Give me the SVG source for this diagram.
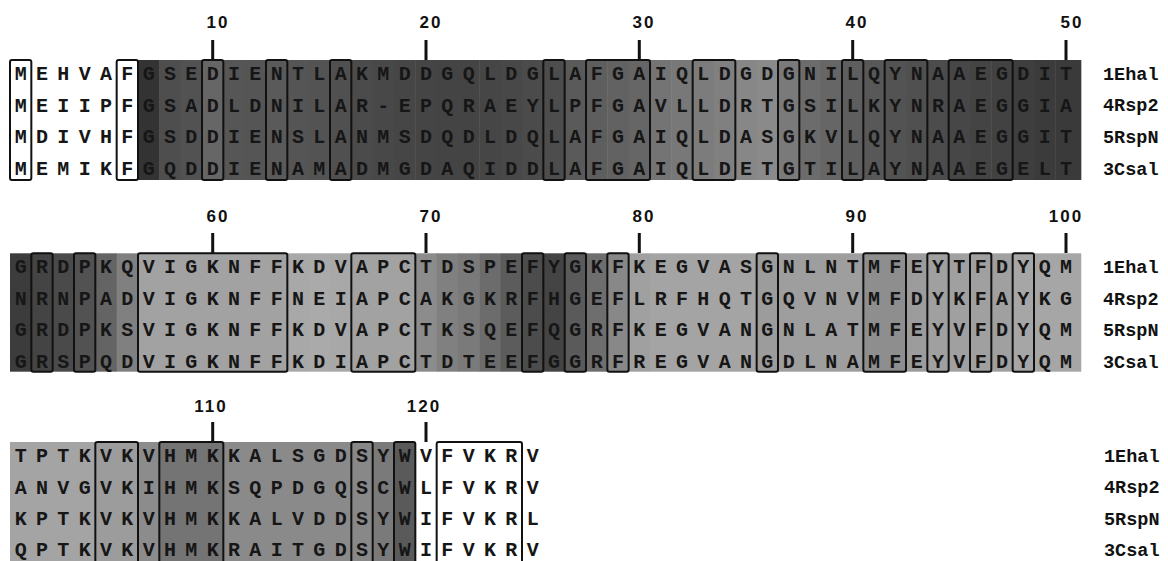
<svg xmlns="http://www.w3.org/2000/svg" width="1168" height="561" viewBox="0 0 1168 561">
<style>
.seq{font-family:"Liberation Mono","DejaVu Sans Mono",monospace;font-weight:bold;font-size:20px;fill:#161616;text-anchor:middle}
.lab{font-family:"Liberation Mono","DejaVu Sans Mono",monospace;font-weight:bold;font-size:18.5px;fill:#111}
.num{font-family:"Liberation Sans",Arial,sans-serif;font-weight:bold;font-size:17px;fill:#111;text-anchor:middle;letter-spacing:2px}
.box{fill:none;stroke:#111;stroke-width:2}
.tick{fill:#111}
</style>
<rect width="1168" height="561" fill="#fff"/>

<g id="block1">
<g id="shade1">
<rect x="138" y="60" width="21.8" height="120" fill="#333"/>
<rect x="159.33" y="60" width="21.8" height="120" fill="#4e4e4e"/>
<rect x="180.67" y="60" width="21.8" height="120" fill="#525252"/>
<rect x="202" y="60" width="21.8" height="120" fill="#666"/>
<rect x="223.33" y="60" width="21.8" height="120" fill="#565656"/>
<rect x="244.67" y="60" width="21.8" height="120" fill="#555"/>
<rect x="266" y="60" width="21.8" height="120" fill="#5a5a5a"/>
<rect x="287.33" y="60" width="21.8" height="120" fill="#555"/>
<rect x="308.67" y="60" width="21.8" height="120" fill="#535353"/>
<rect x="330" y="60" width="21.8" height="120" fill="#505050"/>
<rect x="351.33" y="60" width="21.8" height="120" fill="#4b4b4b"/>
<rect x="372.67" y="60" width="21.8" height="120" fill="#484848"/>
<rect x="394" y="60" width="21.8" height="120" fill="#464646"/>
<rect x="415.33" y="60" width="21.8" height="120" fill="#454545"/>
<rect x="436.67" y="60" width="21.8" height="120" fill="#444"/>
<rect x="458" y="60" width="21.8" height="120" fill="#444"/>
<rect x="479.33" y="60" width="21.8" height="120" fill="#464646"/>
<rect x="500.67" y="60" width="21.8" height="120" fill="#484848"/>
<rect x="522" y="60" width="21.8" height="120" fill="#4b4b4b"/>
<rect x="543.33" y="60" width="21.8" height="120" fill="#4d4d4d"/>
<rect x="564.67" y="60" width="21.8" height="120" fill="#5a5a5a"/>
<rect x="586" y="60" width="21.8" height="120" fill="#5e5e5e"/>
<rect x="607.33" y="60" width="21.8" height="120" fill="#626262"/>
<rect x="628.67" y="60" width="21.8" height="120" fill="#666"/>
<rect x="650" y="60" width="21.8" height="120" fill="#747474"/>
<rect x="671.33" y="60" width="21.8" height="120" fill="#787878"/>
<rect x="692.67" y="60" width="21.8" height="120" fill="#7c7c7c"/>
<rect x="714" y="60" width="21.8" height="120" fill="#808080"/>
<rect x="735.33" y="60" width="21.8" height="120" fill="#878787"/>
<rect x="756.67" y="60" width="21.8" height="120" fill="#8a8a8a"/>
<rect x="778" y="60" width="21.8" height="120" fill="#7a7a7a"/>
<rect x="799.33" y="60" width="21.8" height="120" fill="#6c6c6c"/>
<rect x="820.67" y="60" width="21.8" height="120" fill="#666"/>
<rect x="842" y="60" width="21.8" height="120" fill="#5e5e5e"/>
<rect x="863.33" y="60" width="21.8" height="120" fill="#585858"/>
<rect x="884.67" y="60" width="21.8" height="120" fill="#535353"/>
<rect x="906" y="60" width="21.8" height="120" fill="#505050"/>
<rect x="927.33" y="60" width="21.8" height="120" fill="#4c4c4c"/>
<rect x="948.67" y="60" width="21.8" height="120" fill="#474747"/>
<rect x="970" y="60" width="21.8" height="120" fill="#444"/>
<rect x="991.33" y="60" width="21.8" height="120" fill="#424242"/>
<rect x="1012.67" y="60" width="21.8" height="120" fill="#3e3e3e"/>
<rect x="1034" y="60" width="21.8" height="120" fill="#3b3b3b"/>
<rect x="1055.33" y="60" width="26" height="120" fill="#3a3a3a"/>
</g>
<g id="boxes1">
<rect class="box" x="10" y="60" width="21.33" height="120" rx="2"/>
<rect class="box" x="116.67" y="60" width="21.33" height="120" rx="2"/>
<rect class="box" x="202" y="60" width="21.33" height="120" rx="2"/>
<rect class="box" x="266" y="60" width="21.33" height="120" rx="2"/>
<rect class="box" x="330" y="60" width="21.33" height="120" rx="2"/>
<rect class="box" x="543.33" y="60" width="21.33" height="120" rx="2"/>
<rect class="box" x="586" y="60" width="64" height="120" rx="2"/>
<rect class="box" x="692.67" y="60" width="42.67" height="120" rx="2"/>
<rect class="box" x="778" y="60" width="21.33" height="120" rx="2"/>
<rect class="box" x="842" y="60" width="21.33" height="120" rx="2"/>
<rect class="box" x="884.67" y="60" width="42.67" height="120" rx="2"/>
<rect class="box" x="948.67" y="60" width="64" height="120" rx="2"/>
</g>
<g id="ticks1">
<rect class="tick" x="211.2" y="40" width="3" height="20"/>
<rect class="tick" x="424.5" y="40" width="3" height="20"/>
<rect class="tick" x="637.8" y="40" width="3" height="20"/>
<rect class="tick" x="851.2" y="40" width="3" height="20"/>
<rect class="tick" x="1064.5" y="40" width="3" height="20"/>
<text class="num" x="218" y="28">10</text>
<text class="num" x="431" y="28">20</text>
<text class="num" x="644" y="28">30</text>
<text class="num" x="857" y="28">40</text>
<text class="num" x="1072" y="28">50</text>
</g>
<g id="seq1">
<text class="seq" y="80" x="20.67 42 63.33 84.67 106 127.33 148.67 170 191.33 212.67 234 255.33 276.67 298 319.33 340.67 362 383.33 404.67 426 447.33 468.67 490 511.33 532.67 554 575.33 596.67 618 639.33 660.67 682 703.33 724.67 746 767.33 788.67 810 831.33 852.67 874 895.33 916.67 938 959.33 980.67 1002 1023.33 1044.67 1066">MEHVAFGSEDIENTLAKMDDGQLDGLAFGAIQLDGDGNILQYNAAEGDIT</text>
<text class="seq" y="111.6" x="20.67 42 63.33 84.67 106 127.33 148.67 170 191.33 212.67 234 255.33 276.67 298 319.33 340.67 362 383.33 404.67 426 447.33 468.67 490 511.33 532.67 554 575.33 596.67 618 639.33 660.67 682 703.33 724.67 746 767.33 788.67 810 831.33 852.67 874 895.33 916.67 938 959.33 980.67 1002 1023.33 1044.67 1066">MEIIPFGSADLDNILAR-EPQRAEYLPFGAVLLDRTGSILKYNRAEGGIA</text>
<text class="seq" y="143.3" x="20.67 42 63.33 84.67 106 127.33 148.67 170 191.33 212.67 234 255.33 276.67 298 319.33 340.67 362 383.33 404.67 426 447.33 468.67 490 511.33 532.67 554 575.33 596.67 618 639.33 660.67 682 703.33 724.67 746 767.33 788.67 810 831.33 852.67 874 895.33 916.67 938 959.33 980.67 1002 1023.33 1044.67 1066">MDIVHFGSDDIENSLANMSDQDLDQLAFGAIQLDASGKVLQYNAAEGGIT</text>
<text class="seq" y="175" x="20.67 42 63.33 84.67 106 127.33 148.67 170 191.33 212.67 234 255.33 276.67 298 319.33 340.67 362 383.33 404.67 426 447.33 468.67 490 511.33 532.67 554 575.33 596.67 618 639.33 660.67 682 703.33 724.67 746 767.33 788.67 810 831.33 852.67 874 895.33 916.67 938 959.33 980.67 1002 1023.33 1044.67 1066">MEMIKFGQDDIENAMADMGDAQIDDLAFGAIQLDETGTILAYNAAEGELT</text>
</g>
<g id="labels1">
<text class="lab" x="1103" y="79.5">1Ehal</text>
<text class="lab" x="1103" y="111.2">4Rsp2</text>
<text class="lab" x="1103" y="142.8">5RspN</text>
<text class="lab" x="1103" y="174.5">3Csal</text>
</g>
</g>

<g id="block2">
<g id="shade2">
<rect x="10" y="253.3" width="21.8" height="118.4" fill="#3c3c3c"/>
<rect x="31.33" y="253.3" width="21.8" height="118.4" fill="#444"/>
<rect x="52.67" y="253.3" width="21.8" height="118.4" fill="#4a4a4a"/>
<rect x="74" y="253.3" width="21.8" height="118.4" fill="#525252"/>
<rect x="95.33" y="253.3" width="21.8" height="118.4" fill="#646464"/>
<rect x="116.67" y="253.3" width="21.8" height="118.4" fill="#808080"/>
<rect x="138" y="253.3" width="149.8" height="118.4" fill="#a2a2a2"/>
<rect x="287.33" y="253.3" width="21.8" height="118.4" fill="#a8a8a8"/>
<rect x="308.67" y="253.3" width="21.8" height="118.4" fill="#aaa"/>
<rect x="330" y="253.3" width="21.8" height="118.4" fill="#a8a8a8"/>
<rect x="351.33" y="253.3" width="64.4" height="118.4" fill="#a2a2a2"/>
<rect x="415.33" y="253.3" width="21.8" height="118.4" fill="#8c8c8c"/>
<rect x="436.67" y="253.3" width="21.8" height="118.4" fill="#808080"/>
<rect x="458" y="253.3" width="21.8" height="118.4" fill="#7a7a7a"/>
<rect x="479.33" y="253.3" width="21.8" height="118.4" fill="#6c6c6c"/>
<rect x="500.67" y="253.3" width="21.8" height="118.4" fill="#5c5c5c"/>
<rect x="522" y="253.3" width="21.8" height="118.4" fill="#4c4c4c"/>
<rect x="543.33" y="253.3" width="21.8" height="118.4" fill="#444"/>
<rect x="564.67" y="253.3" width="21.8" height="118.4" fill="#5a5a5a"/>
<rect x="586" y="253.3" width="21.8" height="118.4" fill="#6e6e6e"/>
<rect x="607.33" y="253.3" width="21.8" height="118.4" fill="#888"/>
<rect x="628.67" y="253.3" width="21.8" height="118.4" fill="#a0a0a0"/>
<rect x="650" y="253.3" width="107" height="118.4" fill="#a4a4a4"/>
<rect x="756.67" y="253.3" width="21.8" height="118.4" fill="#9c9c9c"/>
<rect x="778" y="253.3" width="85.8" height="118.4" fill="#9e9e9e"/>
<rect x="863.33" y="253.3" width="43" height="118.4" fill="#8e8e8e"/>
<rect x="906" y="253.3" width="21.8" height="118.4" fill="#9c9c9c"/>
<rect x="927.33" y="253.3" width="85.8" height="118.4" fill="#a0a0a0"/>
<rect x="1012.67" y="253.3" width="68.6" height="118.4" fill="#a6a6a6"/>
</g>
<g id="boxes2">
<rect class="box" x="31.33" y="253.3" width="21.33" height="118.4" rx="2"/>
<rect class="box" x="74" y="253.3" width="21.33" height="118.4" rx="2"/>
<rect class="box" x="138" y="253.3" width="149.33" height="118.4" rx="2"/>
<rect class="box" x="351.33" y="253.3" width="64" height="118.4" rx="2"/>
<rect class="box" x="522" y="253.3" width="21.33" height="118.4" rx="2"/>
<rect class="box" x="564.67" y="253.3" width="21.33" height="118.4" rx="2"/>
<rect class="box" x="607.33" y="253.3" width="21.33" height="118.4" rx="2"/>
<rect class="box" x="756.67" y="253.3" width="21.33" height="118.4" rx="2"/>
<rect class="box" x="863.33" y="253.3" width="42.67" height="118.4" rx="2"/>
<rect class="box" x="927.33" y="253.3" width="21.33" height="118.4" rx="2"/>
<rect class="box" x="970" y="253.3" width="21.33" height="118.4" rx="2"/>
<rect class="box" x="1012.67" y="253.3" width="21.33" height="118.4" rx="2"/>
</g>
<g id="ticks2">
<rect class="tick" x="211.2" y="233" width="3" height="20"/>
<rect class="tick" x="424.5" y="233" width="3" height="20"/>
<rect class="tick" x="637.8" y="233" width="3" height="20"/>
<rect class="tick" x="851.2" y="233" width="3" height="20"/>
<rect class="tick" x="1064.5" y="233" width="3" height="20"/>
<text class="num" x="218" y="222">60</text>
<text class="num" x="431" y="222">70</text>
<text class="num" x="644" y="222">80</text>
<text class="num" x="857" y="222">90</text>
<text class="num" x="1066" y="222">100</text>
</g>
<g id="seq2">
<text class="seq" y="273.3" x="20.67 42 63.33 84.67 106 127.33 148.67 170 191.33 212.67 234 255.33 276.67 298 319.33 340.67 362 383.33 404.67 426 447.33 468.67 490 511.33 532.67 554 575.33 596.67 618 639.33 660.67 682 703.33 724.67 746 767.33 788.67 810 831.33 852.67 874 895.33 916.67 938 959.33 980.67 1002 1023.33 1044.67 1066">GRDPKQVIGKNFFKDVAPCTDSPEFYGKFKEGVASGNLNTMFEYTFDYQM</text>
<text class="seq" y="305" x="20.67 42 63.33 84.67 106 127.33 148.67 170 191.33 212.67 234 255.33 276.67 298 319.33 340.67 362 383.33 404.67 426 447.33 468.67 490 511.33 532.67 554 575.33 596.67 618 639.33 660.67 682 703.33 724.67 746 767.33 788.67 810 831.33 852.67 874 895.33 916.67 938 959.33 980.67 1002 1023.33 1044.67 1066">NRNPADVIGKNFFNEIAPCAKGKRFHGEFLRFHQTGQVNVMFDYKFAYKG</text>
<text class="seq" y="336.4" x="20.67 42 63.33 84.67 106 127.33 148.67 170 191.33 212.67 234 255.33 276.67 298 319.33 340.67 362 383.33 404.67 426 447.33 468.67 490 511.33 532.67 554 575.33 596.67 618 639.33 660.67 682 703.33 724.67 746 767.33 788.67 810 831.33 852.67 874 895.33 916.67 938 959.33 980.67 1002 1023.33 1044.67 1066">GRDPKSVIGKNFFKDVAPCTKSQEFQGRFKEGVANGNLATMFEYVFDYQM</text>
<text class="seq" y="368" x="20.67 42 63.33 84.67 106 127.33 148.67 170 191.33 212.67 234 255.33 276.67 298 319.33 340.67 362 383.33 404.67 426 447.33 468.67 490 511.33 532.67 554 575.33 596.67 618 639.33 660.67 682 703.33 724.67 746 767.33 788.67 810 831.33 852.67 874 895.33 916.67 938 959.33 980.67 1002 1023.33 1044.67 1066">GRSPQDVIGKNFFKDIAPCTDTEEFGGRFREGVANGDLNAMFEYVFDYQM</text>
</g>
<g id="labels2">
<text class="lab" x="1103" y="272.8">1Ehal</text>
<text class="lab" x="1103" y="304.5">4Rsp2</text>
<text class="lab" x="1103" y="335.9">5RspN</text>
<text class="lab" x="1103" y="367.5">3Csal</text>
</g>
</g>

<g id="block3">
<g id="shade3">
<rect x="10" y="442" width="85.8" height="120" fill="#a4a4a4"/>
<rect x="95.33" y="442" width="43" height="120" fill="#9c9c9c"/>
<rect x="138" y="442" width="21.8" height="120" fill="#8c8c8c"/>
<rect x="159.33" y="442" width="64.4" height="120" fill="#747474"/>
<rect x="223.33" y="442" width="128.4" height="120" fill="#8a8a8a"/>
<rect x="351.33" y="442" width="21.8" height="120" fill="#888"/>
<rect x="372.67" y="442" width="21.8" height="120" fill="#7a7a7a"/>
<rect x="394" y="442" width="21.33" height="120" fill="#5a5a5a"/>
</g>
<g id="boxes3">
<rect class="box" x="95.33" y="442" width="42.67" height="122" rx="2"/>
<rect class="box" x="159.33" y="442" width="64" height="122" rx="2"/>
<rect class="box" x="351.33" y="442" width="21.33" height="122" rx="2"/>
<rect class="box" x="394" y="442" width="21.33" height="122" rx="2"/>
<rect class="box" x="436.67" y="442" width="85.33" height="122" rx="2"/>
</g>
<g id="ticks3">
<rect class="tick" x="211.2" y="422" width="3" height="20"/>
<rect class="tick" x="424.5" y="422" width="3" height="20"/>
<text class="num" x="211" y="412">110</text>
<text class="num" x="424" y="412">120</text>
</g>
<g id="seq3">
<text class="seq" y="462" x="20.67 42 63.33 84.67 106 127.33 148.67 170 191.33 212.67 234 255.33 276.67 298 319.33 340.67 362 383.33 404.67 426 447.33 468.67 490 511.33 532.67">TPTKVKVHMKKALSGDSYWVFVKRV</text>
<text class="seq" y="493.6" x="20.67 42 63.33 84.67 106 127.33 148.67 170 191.33 212.67 234 255.33 276.67 298 319.33 340.67 362 383.33 404.67 426 447.33 468.67 490 511.33 532.67">ANVGVKIHMKSQPDGQSCWLFVKRV</text>
<text class="seq" y="525.3" x="20.67 42 63.33 84.67 106 127.33 148.67 170 191.33 212.67 234 255.33 276.67 298 319.33 340.67 362 383.33 404.67 426 447.33 468.67 490 511.33 532.67">KPTKVKVHMKKALVDDSYWIFVKRL</text>
<text class="seq" y="556" x="20.67 42 63.33 84.67 106 127.33 148.67 170 191.33 212.67 234 255.33 276.67 298 319.33 340.67 362 383.33 404.67 426 447.33 468.67 490 511.33 532.67">QPTKVKVHMKRAITGDSYWIFVKRV</text>
</g>
<g id="labels3">
<text class="lab" x="1104" y="461.5">1Ehal</text>
<text class="lab" x="1104" y="493.1">4Rsp2</text>
<text class="lab" x="1104" y="524.8">5RspN</text>
<text class="lab" x="1104" y="555.5">3Csal</text>
</g>
</g>
</svg>
